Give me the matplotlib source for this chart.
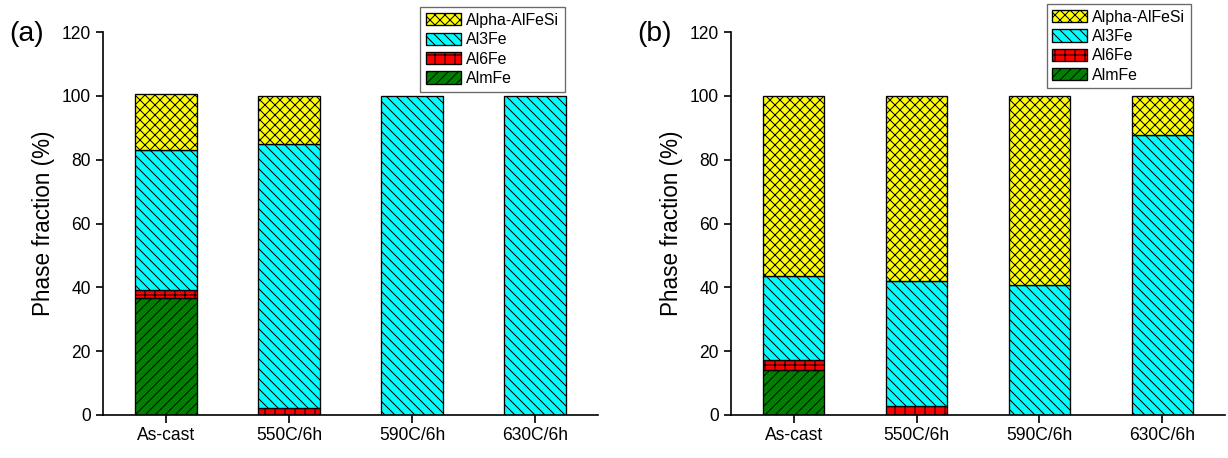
import matplotlib
matplotlib.use("Agg")
import matplotlib.pyplot as plt
from matplotlib.patches import Patch
import numpy as np

plt.rcParams["font.family"] = ["Liberation Sans", "DejaVu Sans"]
plt.rcParams["hatch.linewidth"] = 0.6
plt.rcParams["hatch.color"] = "black"

conditions = ["As-cast", "550C/6h", "590C/6h", "630C/6h"]
phases = ["AlmFe", "Al6Fe", "Al3Fe", "Alpha-AlFeSi"]

# phase fractions (%) per condition, alloy (a)
almfe_a = [36.7, 0, 0, 0]
al6fe_a = [2.6, 2.1, 0, 0]
al3fe_a = [43.7, 82.7, 100, 100]
alpha_a = [17.7, 15.3, 0, 0]

# phase fractions (%) per condition, alloy (b)
almfe_b = [14.1, 0, 0, 0]
al6fe_b = [3.1, 2.8, 0, 0]
al3fe_b = [26.3, 39.2, 40.7, 87.8]
alpha_b = [56.5, 57.9, 59.3, 12.2]

# fill colour and hatch per phase (bottom to top); hatch tiles are 1 inch,
# so these give roughly 10 px line spacing at 120 dpi
styles = {
    "AlmFe":        ("#007F00", "////"),
    "Al6Fe":        ("#FF0000", "++"),
    "Al3Fe":        ("#00FFFF", "\\\\\\\\"),
    "Alpha-AlFeSi": ("#FFFF00", "xxxx"),
}

DPI = 120
fig = plt.figure(figsize=(1228 / DPI, 458 / DPI), dpi=DPI)


def stacked_panel(rect, series, tag, legend_anchor):
    ax = fig.add_axes(rect)
    x = np.arange(1, len(conditions) + 1)
    bottom = np.zeros(len(conditions))
    for name, vals in zip(phases, series):
        vals = np.asarray(vals, dtype=float)
        color, hatch = styles[name]
        keep = vals > 0
        ax.bar(x[keep], vals[keep], bottom=bottom[keep], width=0.5,
               color=color, edgecolor="black", linewidth=0.8, hatch=hatch)
        bottom += vals

    ax.set_xlim(0.49, 4.51)
    ax.set_ylim(0, 120)
    ax.set_yticks(range(0, 121, 20))
    ax.set_xticks(x)
    ax.set_xticklabels(conditions)
    ax.set_ylabel("Phase fraction (%)", fontsize=13.5)
    ax.spines[["top", "right"]].set_visible(False)
    ax.spines[["left", "bottom"]].set_linewidth(1.0)
    ax.tick_params(axis="both", direction="out", length=4.5, width=1.0,
                   labelsize=10.5, pad=3)

    handles = [Patch(facecolor=styles[p][0], edgecolor="black", linewidth=0.8,
                     hatch=styles[p][1], label=p) for p in reversed(phases)]
    leg = ax.legend(handles=handles, loc="upper right", bbox_to_anchor=legend_anchor,
                    borderaxespad=0, fontsize=9.5, fancybox=False, frameon=True,
                    handlelength=2.2, handleheight=0.8, labelspacing=0.28,
                    handletextpad=0.35, borderpad=0.35)
    leg.get_frame().set_edgecolor("#444444")
    leg.get_frame().set_linewidth(0.8)
    leg.set_zorder(5)

    fig.text(rect[0] - 0.062, 0.925, tag, fontsize=17, ha="center", va="center")
    return ax


stacked_panel([0.0839, 0.0939, 0.4031, 0.8362],
              [almfe_a, al6fe_a, al3fe_a, alpha_a], "(a)", (0.933, 1.065))
stacked_panel([0.5953, 0.0939, 0.4023, 0.8362],
              [almfe_b, al6fe_b, al3fe_b, alpha_b], "(b)", (0.931, 1.073))

fig.savefig("out.png", dpi=DPI)
